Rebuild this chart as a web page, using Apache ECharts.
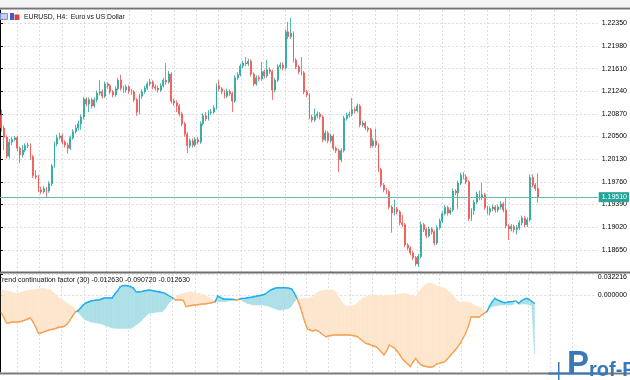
<!DOCTYPE html>
<html><head><meta charset="utf-8">
<script src="https://cdn.jsdelivr.net/npm/echarts@6/dist/echarts.min.js"></script>
<style>html,body{margin:0;padding:0;background:#fff}#c{width:630px;height:380px}</style>
</head><body><div id="c"></div>
<script>
const symbolTitle = 'EURUSD, H4:  Euro vs US Dollar';
const indicatorTitle = 'Trend continuation factor (30) -0.012630 -0.090720 -0.012630';
const priceTicks = [1.18650,1.19020,1.19390,1.19760,1.20130,1.20500,1.20870,1.21240,1.21610,1.21980,1.22350];
const currentPrice = 1.19510;
const indicatorTicks = [0.032216, 0];
const totalSlots = 225;

const opens = [1.2085,1.2064,1.2049,1.2018,1.2041,1.2045,1.2048,1.2031,1.2020,1.2028,
1.2035,1.2036,1.2017,1.1986,1.1984,1.1963,1.1960,1.1965,1.1961,1.1973,
1.2002,1.2038,1.2048,1.2051,1.2041,1.2036,1.2031,1.2048,1.2058,1.2064,
1.2071,1.2082,1.2111,1.2103,1.2110,1.2100,1.2110,1.2121,1.2123,1.2116,
1.2136,1.2133,1.2123,1.2118,1.2128,1.2142,1.2129,1.2126,1.2131,1.2124,
1.2123,1.2110,1.2090,1.2116,1.2123,1.2129,1.2136,1.2139,1.2131,1.2129,
1.2126,1.2133,1.2142,1.2139,1.2152,1.2108,1.2105,1.2100,1.2087,1.2071,
1.2054,1.2035,1.2043,1.2036,1.2045,1.2041,1.2071,1.2084,1.2079,1.2089,
1.2090,1.2097,1.2133,1.2128,1.2123,1.2116,1.2124,1.2120,1.2108,1.2146,
1.2151,1.2165,1.2170,1.2169,1.2173,1.2152,1.2136,1.2146,1.2144,1.2156,
1.2149,1.2159,1.2156,1.2126,1.2142,1.2164,1.2167,1.2162,1.2221,1.2213,
1.2219,1.2175,1.2164,1.2156,1.2154,1.2123,1.2118,1.2082,1.2077,1.2084,
1.2087,1.2082,1.2045,1.2056,1.2043,1.2051,1.2031,1.2027,1.2012,1.2027,
1.2080,1.2085,1.2087,1.2094,1.2092,1.2100,1.2069,1.2072,1.2064,1.2061,
1.2035,1.2043,1.2036,1.1996,1.1971,1.1963,1.1960,1.1935,1.1925,1.1932,
1.1927,1.1909,1.1906,1.1873,1.1868,1.1860,1.1852,1.1842,1.1854,1.1906,
1.1898,1.1888,1.1899,1.1894,1.1876,1.1901,1.1912,1.1924,1.1934,1.1925,
1.1930,1.1961,1.1958,1.1974,1.1987,1.1984,1.1976,1.1916,1.1929,1.1943,
1.1956,1.1950,1.1955,1.1934,1.1927,1.1932,1.1935,1.1930,1.1935,1.1940,
1.1930,1.1904,1.1899,1.1903,1.1898,1.1901,1.1909,1.1917,1.1906,1.1914,
1.1983,1.1971,1.1965];

const closes = [1.2064,1.2049,1.2018,1.2041,1.2045,1.2048,1.2031,1.2020,1.2028,1.2035,
1.2036,1.2017,1.1986,1.1984,1.1963,1.1960,1.1965,1.1961,1.1973,1.2002,
1.2038,1.2048,1.2051,1.2041,1.2036,1.2031,1.2048,1.2058,1.2064,1.2071,
1.2082,1.2111,1.2103,1.2110,1.2100,1.2110,1.2121,1.2123,1.2116,1.2136,
1.2133,1.2123,1.2118,1.2128,1.2142,1.2129,1.2126,1.2131,1.2124,1.2123,
1.2110,1.2090,1.2116,1.2123,1.2129,1.2136,1.2139,1.2131,1.2129,1.2126,
1.2133,1.2142,1.2139,1.2152,1.2108,1.2105,1.2100,1.2087,1.2071,1.2054,
1.2035,1.2043,1.2036,1.2045,1.2041,1.2071,1.2084,1.2079,1.2089,1.2090,
1.2097,1.2133,1.2128,1.2123,1.2116,1.2124,1.2120,1.2108,1.2146,1.2151,
1.2165,1.2170,1.2169,1.2173,1.2152,1.2136,1.2146,1.2144,1.2156,1.2149,
1.2159,1.2156,1.2126,1.2142,1.2164,1.2167,1.2162,1.2221,1.2213,1.2219,
1.2175,1.2164,1.2156,1.2154,1.2123,1.2118,1.2082,1.2077,1.2084,1.2087,
1.2082,1.2045,1.2056,1.2043,1.2051,1.2031,1.2027,1.2012,1.2027,1.2080,
1.2085,1.2087,1.2094,1.2092,1.2100,1.2069,1.2072,1.2064,1.2061,1.2035,
1.2043,1.2036,1.1996,1.1971,1.1963,1.1960,1.1935,1.1925,1.1932,1.1927,
1.1909,1.1906,1.1873,1.1868,1.1860,1.1852,1.1842,1.1854,1.1906,1.1898,
1.1888,1.1899,1.1894,1.1876,1.1901,1.1912,1.1924,1.1934,1.1925,1.1930,
1.1961,1.1958,1.1974,1.1987,1.1984,1.1976,1.1916,1.1929,1.1943,1.1956,
1.1950,1.1955,1.1934,1.1927,1.1932,1.1935,1.1930,1.1935,1.1940,1.1930,
1.1904,1.1899,1.1903,1.1898,1.1901,1.1909,1.1917,1.1906,1.1914,1.1983,
1.1971,1.1965,1.1951];

const highs = [1.2094,1.2068,1.2052,1.2046,1.2050,1.2051,1.2051,1.2034,1.2036,1.2039,
1.2040,1.2039,1.2020,1.1995,1.1987,1.1968,1.1969,1.1968,1.1977,1.2005,
1.2042,1.2053,1.2056,1.2055,1.2044,1.2040,1.2052,1.2062,1.2069,1.2076,
1.2086,1.2115,1.2114,1.2114,1.2113,1.2114,1.2125,1.2142,1.2127,1.2140,
1.2139,1.2136,1.2126,1.2132,1.2146,1.2151,1.2133,1.2135,1.2134,1.2128,
1.2126,1.2113,1.2120,1.2127,1.2133,1.2140,1.2144,1.2142,1.2135,1.2133,
1.2137,1.2146,1.2170,1.2157,1.2155,1.2112,1.2109,1.2103,1.2090,1.2074,
1.2057,1.2047,1.2047,1.2049,1.2049,1.2075,1.2088,1.2090,1.2093,1.2095,
1.2101,1.2137,1.2142,1.2131,1.2126,1.2128,1.2127,1.2123,1.2150,1.2155,
1.2169,1.2174,1.2180,1.2177,1.2176,1.2155,1.2150,1.2150,1.2172,1.2159,
1.2175,1.2163,1.2159,1.2146,1.2168,1.2171,1.2171,1.2225,1.2237,1.2244,
1.2222,1.2178,1.2167,1.2180,1.2157,1.2126,1.2121,1.2086,1.2096,1.2091,
1.2090,1.2085,1.2060,1.2059,1.2055,1.2054,1.2034,1.2030,1.2031,1.2084,
1.2089,1.2091,1.2113,1.2098,1.2104,1.2103,1.2076,1.2075,1.2067,1.2064,
1.2047,1.2063,1.2039,1.1999,1.1974,1.1966,1.1963,1.1938,1.1947,1.1935,
1.1930,1.1922,1.1909,1.1876,1.1871,1.1863,1.1855,1.1858,1.1911,1.1909,
1.1901,1.1903,1.1902,1.1897,1.1905,1.1916,1.1928,1.1938,1.1937,1.1934,
1.1965,1.1964,1.1978,1.1991,1.1992,1.1988,1.1979,1.1933,1.1947,1.1960,
1.1962,1.1974,1.1958,1.1937,1.1936,1.1939,1.1938,1.1939,1.1944,1.1943,
1.1951,1.1907,1.1907,1.1906,1.1905,1.1913,1.1921,1.1920,1.1918,1.1988,
1.1988,1.1974,1.1990];

const lows = [1.2058,1.2028,1.2014,1.2014,1.2036,1.2042,1.2026,1.2007,1.2016,1.2024,
1.2031,1.2012,1.1982,1.1980,1.1959,1.1956,1.1957,1.1951,1.1958,1.1969,
1.1999,1.2034,1.2045,1.2037,1.2032,1.2022,1.2028,1.2045,1.2055,1.2060,
1.2061,1.2078,1.2099,1.2090,1.2096,1.2097,1.2106,1.2117,1.2112,1.2113,
1.2128,1.2119,1.2114,1.2115,1.2125,1.2125,1.2121,1.2122,1.2120,1.2118,
1.2106,1.2084,1.2086,1.2112,1.2120,1.2126,1.2132,1.2127,1.2125,1.2122,
1.2123,1.2130,1.2135,1.2136,1.2104,1.2100,1.2090,1.2083,1.2067,1.2050,
1.2023,1.2031,1.2032,1.2033,1.2037,1.2038,1.2068,1.2075,1.2076,1.2085,
1.2087,1.2094,1.2124,1.2119,1.2112,1.2113,1.2116,1.2090,1.2105,1.2142,
1.2148,1.2161,1.2165,1.2165,1.2148,1.2132,1.2133,1.2140,1.2141,1.2145,
1.2146,1.2152,1.2110,1.2122,1.2139,1.2160,1.2158,1.2159,1.2209,1.2209,
1.2171,1.2160,1.2152,1.2150,1.2119,1.2114,1.2078,1.2073,1.2074,1.2080,
1.2078,1.2041,1.2042,1.2039,1.2040,1.2027,1.2023,1.1992,1.2008,1.2024,
1.2076,1.2081,1.2083,1.2088,1.2089,1.2065,1.2065,1.2060,1.2057,1.2031,
1.2032,1.2032,1.1992,1.1967,1.1959,1.1956,1.1931,1.1893,1.1921,1.1923,
1.1905,1.1902,1.1869,1.1864,1.1856,1.1848,1.1838,1.1837,1.1851,1.1894,
1.1884,1.1885,1.1890,1.1872,1.1873,1.1898,1.1909,1.1921,1.1921,1.1922,
1.1927,1.1954,1.1932,1.1971,1.1980,1.1972,1.1912,1.1912,1.1922,1.1940,
1.1946,1.1946,1.1930,1.1923,1.1921,1.1928,1.1926,1.1926,1.1931,1.1926,
1.1900,1.1881,1.1895,1.1893,1.1890,1.1897,1.1905,1.1902,1.1902,1.1911,
1.1967,1.1961,1.1942];

const tcfLine = [-0.0276,-0.0353,-0.0430,-0.0430,-0.0414,-0.0414,-0.0414,-0.0410,-0.0399,-0.0384,
-0.0368,-0.0353,-0.0410,-0.0491,-0.0583,-0.0583,-0.0568,-0.0552,-0.0537,-0.0529,
-0.0522,-0.0506,-0.0491,-0.0491,-0.0476,-0.0445,-0.0384,-0.0322,-0.0261,-0.0245,
-0.0199,-0.0153,-0.0123,-0.0107,-0.0092,-0.0084,-0.0077,-0.0077,-0.0061,-0.0046,
-0.0046,-0.0046,-0.0046,0.0015,0.0061,0.0123,0.0143,0.0146,0.0138,0.0130,
0.0107,0.0051,0.0046,0.0051,0.0061,0.0069,0.0077,0.0069,0.0061,0.0054,
0.0046,0.0038,0.0026,0.0000,-0.0023,-0.0046,-0.0077,-0.0077,-0.0077,-0.0084,
-0.0179,-0.0169,-0.0161,-0.0153,-0.0153,-0.0146,-0.0138,-0.0138,-0.0130,-0.0127,
-0.0115,-0.0103,-0.0015,-0.0038,-0.0061,-0.0066,-0.0066,-0.0066,-0.0069,-0.0077,
-0.0069,-0.0054,-0.0051,-0.0046,-0.0038,-0.0035,-0.0023,-0.0015,-0.0008,0.0000,
0.0015,0.0046,0.0077,0.0092,0.0107,0.0112,0.0112,0.0112,0.0112,0.0103,
0.0092,0.0031,-0.0051,-0.0153,-0.0276,-0.0414,-0.0522,-0.0537,-0.0552,-0.0537,
-0.0552,-0.0583,-0.0614,-0.0640,-0.0629,-0.0621,-0.0614,-0.0614,-0.0614,-0.0614,
-0.0614,-0.0614,-0.0614,-0.0621,-0.0629,-0.0640,-0.0675,-0.0706,-0.0741,-0.0752,
-0.0767,-0.0782,-0.0793,-0.0828,-0.0874,-0.0920,-0.0859,-0.0767,-0.0790,-0.0818,
-0.0859,-0.0920,-0.0982,-0.1023,-0.1058,-0.1100,-0.1028,-0.0971,-0.1028,-0.1074,
-0.1089,-0.1097,-0.1104,-0.1109,-0.1089,-0.1058,-0.1048,-0.1035,-0.1023,-0.0982,
-0.0936,-0.0890,-0.0844,-0.0793,-0.0736,-0.0660,-0.0583,-0.0476,-0.0337,-0.0333,
-0.0337,-0.0342,-0.0307,-0.0281,-0.0256,-0.0169,-0.0107,-0.0051,-0.0077,-0.0092,
-0.0112,-0.0118,-0.0107,-0.0103,-0.0097,-0.0092,-0.0127,-0.0092,-0.0066,-0.0051,
-0.0069,-0.0100,-0.01263];

const tcfOther = [0.0077,0.0069,0.0061,0.0054,0.0046,0.0031,0.0026,0.0038,0.0046,0.0061,
0.0069,0.0077,0.0077,0.0084,0.0092,0.0100,0.0103,0.0092,0.0084,0.0077,
0.0031,-0.0015,-0.0051,-0.0077,-0.0100,-0.0123,-0.0153,-0.0179,-0.0215,-0.0261,
-0.0307,-0.0353,-0.0384,-0.0399,-0.0414,-0.0422,-0.0430,-0.0434,-0.0445,-0.0460,
-0.0476,-0.0491,-0.0506,-0.0511,-0.0511,-0.0514,-0.0511,-0.0511,-0.0511,-0.0511,
-0.0491,-0.0460,-0.0434,-0.0399,-0.0353,-0.0314,-0.0281,-0.0276,-0.0268,-0.0261,
-0.0261,-0.0256,-0.0215,-0.0153,-0.0103,-0.0061,-0.0031,0.0000,0.0015,0.0026,
0.0038,0.0046,0.0051,0.0038,0.0031,0.0023,0.0008,0.0000,-0.0023,-0.0051,
-0.0077,-0.0100,-0.0100,-0.0103,-0.0103,-0.0100,-0.0092,-0.0084,-0.0077,-0.0074,
-0.0061,-0.0077,-0.0107,-0.0127,-0.0138,-0.0146,-0.0153,-0.0153,-0.0153,-0.0153,
-0.0161,-0.0169,-0.0184,-0.0199,-0.0215,-0.0230,-0.0230,-0.0222,-0.0215,-0.0204,
-0.0169,-0.0107,-0.0051,-0.0051,-0.0054,-0.0051,-0.0054,-0.0046,-0.0031,0.0015,
0.0046,0.0061,0.0069,0.0077,0.0077,0.0077,0.0077,0.0031,-0.0046,-0.0107,
-0.0153,-0.0179,-0.0169,-0.0161,-0.0153,-0.0123,-0.0077,-0.0046,-0.0026,-0.0015,
-0.0008,0.0000,0.0000,-0.0008,-0.0015,-0.0015,-0.0008,0.0000,0.0000,0.0000,
0.0008,0.0015,0.0023,0.0026,0.0015,0.0000,-0.0015,-0.0026,0.0031,0.0092,
0.0138,0.0169,0.0189,0.0184,0.0169,0.0138,0.0127,0.0115,0.0103,0.0077,
0.0038,0.0000,-0.0046,-0.0103,-0.0103,-0.0103,-0.0107,-0.0115,-0.0127,-0.0146,
-0.0169,-0.0179,-0.0199,-0.0230,-0.0256,-0.0199,-0.0179,-0.0169,-0.0161,-0.0153,
-0.0153,-0.0153,-0.0153,-0.0153,-0.0146,-0.0084,-0.0146,-0.0138,-0.0138,-0.0138,
-0.0153,-0.0153,-0.09072];

const FONT = 'Liberation Sans';
const UP = '#26a69a', DOWN = '#ef5350';
const BLUE_LINE = '#1fb0ee', ORANGE_LINE = '#f6a257';
const BLUE_FILL = '#addfe7', ORANGE_FILL = '#fde6cd';

const slots = Array.from({length: totalSlots}, (_, i) => String(i));
const candleData = opens.map((o, i) => [o, closes[i], lows[i], highs[i]]);
const segRows = tcfLine.slice(0, -1).map((a, i) => [i, a, tcfOther[i], tcfLine[i + 1], tcfOther[i + 1]]);

// vertical grid-line pixel positions (layout only)
const vGrid = [];
for (let x = 17.4; x < 600; x += 22.44) vGrid.push(x);

function splitSeg(api) {
  const i = api.value(0);
  const a0 = api.value(1), b0 = api.value(2), a1 = api.value(3), b1 = api.value(4);
  const pA0 = api.coord([i, a0]), pB0 = api.coord([i, b0]);
  const pA1 = api.coord([i + 1, a1]), pB1 = api.coord([i + 1, b1]);
  return {pA0, pB0, pA1, pB1, d0: a0 - b0, d1: a1 - b1};
}

function renderFill(params, api) {
  const s = splitSeg(api);
  const col = d => d >= 0 ? BLUE_FILL : ORANGE_FILL;
  const children = [];
  if ((s.d0 >= 0) === (s.d1 >= 0) || s.d0 === s.d1) {
    const c = col(s.d0 + s.d1);
    children.push({type: 'polygon', shape: {points: [s.pA0, s.pA1, s.pB1, s.pB0]}, style: {fill: c, stroke: c, lineWidth: 0.6}});
  } else {
    const t = s.d0 / (s.d0 - s.d1);
    const P = [s.pA0[0] + t * (s.pA1[0] - s.pA0[0]), s.pA0[1] + t * (s.pA1[1] - s.pA0[1])];
    children.push({type: 'polygon', shape: {points: [s.pA0, P, s.pB0]}, style: {fill: col(s.d0), stroke: col(s.d0), lineWidth: 0.6}});
    children.push({type: 'polygon', shape: {points: [P, s.pA1, s.pB1]}, style: {fill: col(s.d1), stroke: col(s.d1), lineWidth: 0.6}});
  }
  return {type: 'group', children};
}

function renderLine(params, api) {
  const s = splitSeg(api);
  const col = d => d >= 0 ? BLUE_LINE : ORANGE_LINE;
  const children = [];
  const st = c => ({stroke: c, lineWidth: 1.4, fill: null, lineCap: 'round'});
  if ((s.d0 >= 0) === (s.d1 >= 0) || s.d0 === s.d1) {
    children.push({type: 'line', shape: {x1: s.pA0[0], y1: s.pA0[1], x2: s.pA1[0], y2: s.pA1[1]}, style: st(col(s.d1))});
  } else {
    const t = s.d0 / (s.d0 - s.d1);
    const P = [s.pA0[0] + t * (s.pA1[0] - s.pA0[0]), s.pA0[1] + t * (s.pA1[1] - s.pA0[1])];
    children.push({type: 'line', shape: {x1: s.pA0[0], y1: s.pA0[1], x2: P[0], y2: P[1]}, style: st(col(s.d0))});
    children.push({type: 'line', shape: {x1: P[0], y1: P[1], x2: s.pA1[0], y2: s.pA1[1]}, style: st(col(s.d1))});
  }
  return {type: 'group', children};
}

const hiddenCat = gi => ({type: 'category', gridIndex: gi, data: slots, boundaryGap: true,
  axisLine: {show: false}, axisTick: {show: false}, axisLabel: {show: false}, splitLine: {show: false}});
const gridX = gi => ({type: 'value', gridIndex: gi, min: 0, max: 600,
  axisLine: {show: false}, axisLabel: {show: false},
  axisTick: {show: false, customValues: vGrid},
  splitLine: {show: true, lineStyle: {color: '#dddddd', type: [2, 2], width: 1}}});

const chart = echarts.init(document.getElementById('c'), null, {renderer: 'canvas'});
chart.setOption({
  animation: false,
  backgroundColor: '#ffffff',
  grid: [
    {left: 0, right: 30, top: 10, height: 262},
    {left: 0, right: 30, top: 274, height: 98}
  ],
  xAxis: [hiddenCat(0), hiddenCat(1), gridX(0), gridX(1)],
  yAxis: [
    {type: 'value', gridIndex: 0, position: 'right', min: 1.182873, max: 1.225673,
      axisLine: {show: true, lineStyle: {color: '#000', width: 1}},
      axisTick: {show: true, length: 3, lineStyle: {color: '#000'}, customValues: priceTicks},
      axisLabel: {customValues: priceTicks, formatter: v => v.toFixed(5), fontSize: 7, color: '#000', margin: 4, fontFamily: FONT},
      splitLine: {show: true, lineStyle: {color: '#dddddd', type: [2, 2]}}},
    {type: 'value', gridIndex: 1, position: 'right', min: -0.1181, max: 0.032216,
      axisLine: {show: true, lineStyle: {color: '#000', width: 1}},
      axisTick: {show: true, length: 3, lineStyle: {color: '#000'}, customValues: indicatorTicks},
      axisLabel: {customValues: indicatorTicks, fontSize: 7, color: '#000', margin: 4, fontFamily: FONT,
        formatter: v => v > 0.01 ? '{t|' + v.toFixed(6) + '}' : v.toFixed(6),
        rich: {t: {padding: [7, 0, 0, 0], fontSize: 7, fontFamily: FONT, color: '#000'}}},
      splitLine: {show: true, lineStyle: {color: '#dddddd', type: [2, 2]}}}
  ],
  series: [
    {type: 'candlestick', xAxisIndex: 0, yAxisIndex: 0, data: candleData, barWidth: 1.4, z: 3,
      itemStyle: {color: UP, color0: DOWN, borderColor: UP, borderColor0: DOWN, borderWidth: 0.8}},
    {type: 'line', name: 'price', xAxisIndex: 2, yAxisIndex: 0, data: [], showSymbol: false, z: 2,
      markLine: {silent: true, symbol: ['none', 'none'], animation: false, precision: 5,
        data: [{yAxis: currentPrice}],
        lineStyle: {color: '#5dbcad', width: 1, type: 'solid'},
        label: {show: true, position: 'end', distance: 1, formatter: () => currentPrice.toFixed(5),
          color: '#fff', backgroundColor: '#26a69a', padding: [1, 2, 0, 3], lineHeight: 9, fontSize: 7, fontFamily: FONT}}},
    {type: 'custom', xAxisIndex: 1, yAxisIndex: 1, data: segRows, renderItem: renderFill,
      encode: {x: 0, y: [1, 2, 3, 4]}, clip: true, silent: true, z: 2},
    {type: 'custom', xAxisIndex: 1, yAxisIndex: 1, data: segRows, renderItem: renderLine,
      encode: {x: 0, y: [1, 2, 3, 4]}, clip: true, silent: true, z: 3}
  ],
  graphic: [
    {type: 'rect', z: 100, shape: {x: 0, y: 0, width: 630, height: 7}, style: {fill: '#f4f4f4'}},
    {type: 'rect', z: 100, shape: {x: 0, y: 7, width: 630, height: 1}, style: {fill: '#c4c4c4'}},
    {type: 'rect', z: 100, shape: {x: 0, y: 8, width: 630, height: 1.5}, style: {fill: '#747474'}},
    {type: 'rect', z: 100, shape: {x: 0, y: 271.5, width: 630, height: 2}, style: {fill: '#6e6e6e'}},
    {type: 'rect', z: 100, shape: {x: 0, y: 372.5, width: 630, height: 2}, style: {fill: '#7a7a7a'}},
    {type: 'rect', z: 100, shape: {x: 0.5, y: 13.5, width: 7, height: 6}, style: {fill: '#c9cdf0', stroke: '#7f8cd6', lineWidth: 1}},
    {type: 'rect', z: 100, shape: {x: 10, y: 13, width: 4, height: 7}, style: {fill: '#4059d6'}},
    {type: 'rect', z: 100, shape: {x: 14.5, y: 14.5, width: 5, height: 5.5}, style: {fill: '#d9433b'}},
    {type: 'text', z: 100, style: {text: symbolTitle, x: 24, y: 17, verticalAlign: 'middle', fontSize: 6.8, fontFamily: FONT, fill: '#111'}},
    {type: 'text', z: 100, style: {text: indicatorTitle, x: -2, y: 280, verticalAlign: 'middle', fontSize: 7, fontFamily: FONT, fill: '#111'}},
    {type: 'rect', z: 101, shape: {x: 548, y: 372.5, width: 60, height: 2}, style: {fill: '#3a78b8'}},
    {type: 'rect', z: 101, shape: {x: 558, y: 362, width: 1.5, height: 18}, style: {fill: '#3a78b8'}},
    {type: 'text', z: 101, style: {text: 'P', x: 567, y: 381, verticalAlign: 'bottom', fontSize: 33, fontWeight: 'bold', fontFamily: FONT, fill: '#3a78b8'}},
    {type: 'text', z: 101, style: {text: 'rof-F', x: 589, y: 380, verticalAlign: 'bottom', fontSize: 20, fontWeight: 'bold', fontFamily: FONT, fill: '#3a78b8'}}
  ]
});
</script>
</body></html>
